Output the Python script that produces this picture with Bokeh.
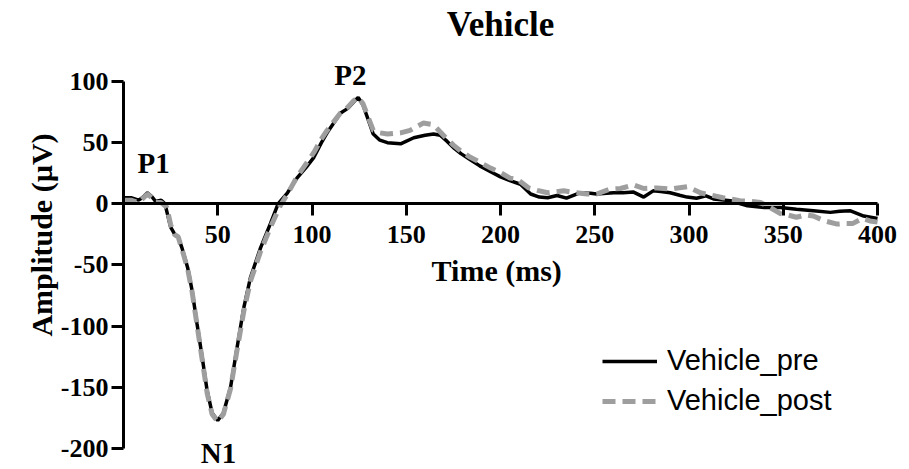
from bokeh.plotting import figure
from bokeh.models import FixedTicker, Legend, LegendItem, Label, Range1d
from bokeh.embed import file_html
from bokeh.resources import INLINE

# ---- data ----
pre_t = [0, 4, 8, 10, 12.7, 15, 17, 20, 22, 25, 27.6, 29, 31, 34, 36.4, 39, 41.7, 44.4, 47, 50,
         53, 56.8, 60.3, 63.8, 67.4, 72.7, 78, 82, 87, 92, 97, 101, 105, 108, 112, 115, 119, 122,
         124.5, 127, 130, 132.5, 136, 140, 147, 154, 160, 164.5, 168, 171.7, 175, 179, 184, 189,
         195, 200, 205, 210.6, 216, 220.6, 225, 230, 235, 242, 247.7, 251, 260, 265, 270.6, 276,
         281, 285, 290, 295, 299, 304, 309, 313, 322, 331, 340, 348.5, 357, 366, 375, 380, 385.7,
         392.7, 400]
pre_v = [5, 5, 3, 5, 9, 6, 2, 3, 0, -19, -26, -27, -36, -52, -71, -98, -125, -153, -171, -177,
         -171, -150, -117, -85, -60, -36, -16, 0, 9, 21, 30, 38, 50, 58, 67, 74, 78, 83,
         87, 81, 68, 57, 52, 50, 49, 54, 56, 57, 56, 51, 46, 41, 36, 31,
         26, 22, 19, 16, 8, 5.5, 5, 6.8, 4.6, 9, 8.6, 8, 9, 9, 9.6, 5.5,
         10.6, 10, 9, 7, 5.5, 4.6, 6.5, 4, 2.5, -1.6, -3, -3, -4.4, -5.7, -7, -6, -5.7,
         -10, -12]

post_t = [0, 4, 8, 10, 12.7, 15, 17, 20, 23, 25, 27, 29, 31, 34, 36.4, 39, 41.7, 44.4, 47, 50,
          53, 56.8, 60.3, 63.8, 67.4, 72.7, 78, 83, 87, 92, 97, 101, 105, 108, 112, 115, 119, 122,
          124.5, 127, 130, 132.5, 136, 140, 147, 152, 159, 163, 166, 171, 175, 179, 184, 189,
          195, 200, 205, 209, 215, 219.5, 225, 233.5, 240, 246, 251, 258, 263.7, 270.6, 276,
          283, 290, 299, 306, 312, 318, 327, 333, 338, 343, 348.5, 352, 357, 362, 366, 372,
          378.6, 383, 387, 392, 396, 400]
post_v = [3, 3, 1, 4, 8, 5, 1, 1, -3, -17, -25, -27, -37, -53, -72, -99, -127, -155, -172, -178,
          -172, -151, -119, -88, -63, -39, -19, -2, 8, 22, 33, 42, 53, 60, 68, 74, 79, 84,
          87, 82, 70, 60, 58, 57, 58, 60, 66, 65, 62, 54, 48, 43, 38, 34,
          29, 25.5, 21, 20, 13, 11, 9, 10.6, 9, 8, 8, 12, 12.5, 15.5, 12.5,
          13, 12, 14, 9, 7, 5, 2.5, 2, 1, -3, -8, -9, -11, -9, -10, -14,
          -16.6, -16, -16, -12, -14, -15]

y_ticks = [-200, -150, -100, -50, 0, 50, 100]
y_tick_labels = ["-200", "-150", "-100", "-50", "0", "50", "100"]
x_ticks = [50, 100, 150, 200, 250, 300, 350, 400]

peak_names = ["P1", "N1", "P2"]
peak_x = [16, 50.4, 120.4]
peak_y = [33.5, -203.5, 105.3]

title_text = "Vehicle"
SERIF = "Liberation Serif"

# frame spans the full figure height; axes limited with bounds
p = figure(width=905, height=469, output_backend="svg", toolbar_location=None,
           x_range=Range1d(0, 412.2), y_range=Range1d(-217.2, 166.2),
           min_border_left=123, min_border_right=5, min_border_top=0, min_border_bottom=0)
p.outline_line_color = None
p.grid.visible = False
p.background_fill_color = "white"
p.border_fill_color = "white"

# axes
xa = p.xaxis[0]
xa.fixed_location = 0
xa.ticker = FixedTicker(ticks=x_ticks)
xa.bounds = (0, 400)
ya = p.yaxis[0]
ya.ticker = FixedTicker(ticks=y_ticks)
ya.bounds = (-200, 100)
ya.major_label_overrides = {t: s for t, s in zip(y_ticks, y_tick_labels)}
for ax in (xa, ya):
    ax.axis_line_width = 3
    ax.axis_line_color = "black"
    ax.major_tick_line_width = 3
    ax.major_tick_line_color = "black"
    ax.major_tick_out = 12
    ax.major_tick_in = 0
    ax.minor_tick_line_color = None
    ax.major_label_text_font = SERIF
    ax.major_label_text_font_size = "26px"
    ax.major_label_text_font_style = "bold"
    ax.major_label_text_color = "black"
    ax.axis_label_text_font = SERIF
    ax.axis_label_text_font_size = "30px"
    ax.axis_label_text_font_style = "bold"
    ax.axis_label_text_color = "black"
xa.axis_label = "Time  (ms)"
xa.major_label_standoff = 10
xa.axis_label_standoff = 8
ya.axis_label = "Amplitude (µV)"
ya.major_label_standoff = 3
ya.axis_label_standoff = 0

r_pre = p.line(pre_t, pre_v, line_color="black", line_width=3.5)
r_post = p.line(post_t, post_v, line_color="#9e9e9e", line_width=5, line_dash="13 7")

legend = Legend(items=[LegendItem(label="Vehicle_pre", renderers=[r_pre]),
                       LegendItem(label="Vehicle_post", renderers=[r_post])],
                location=(479, 52), orientation="vertical",
                glyph_width=55, glyph_height=30, label_height=30, spacing=7,
                label_standoff=10, padding=0, margin=0,
                border_line_color=None, background_fill_alpha=0,
                label_text_font="Liberation Sans", label_text_font_size="29px",
                label_text_color="black")
p.add_layout(legend, "center")

# title (drawn above the axes, centred over the 0-400 span)
p.add_layout(Label(x=200, y=146.3, text=title_text, text_font=SERIF, text_font_size="35px",
                   text_font_style="bold", text_align="center", text_baseline="alphabetic",
                   text_color="black"))

for name, xx, yy in zip(peak_names, peak_x, peak_y):
    p.add_layout(Label(x=xx, y=yy, text=name, text_font=SERIF, text_font_size="29px",
                       text_font_style="bold", text_align="center", text_baseline="middle",
                       text_color="black"))

open("out.html", "w").write(file_html(p, INLINE))
